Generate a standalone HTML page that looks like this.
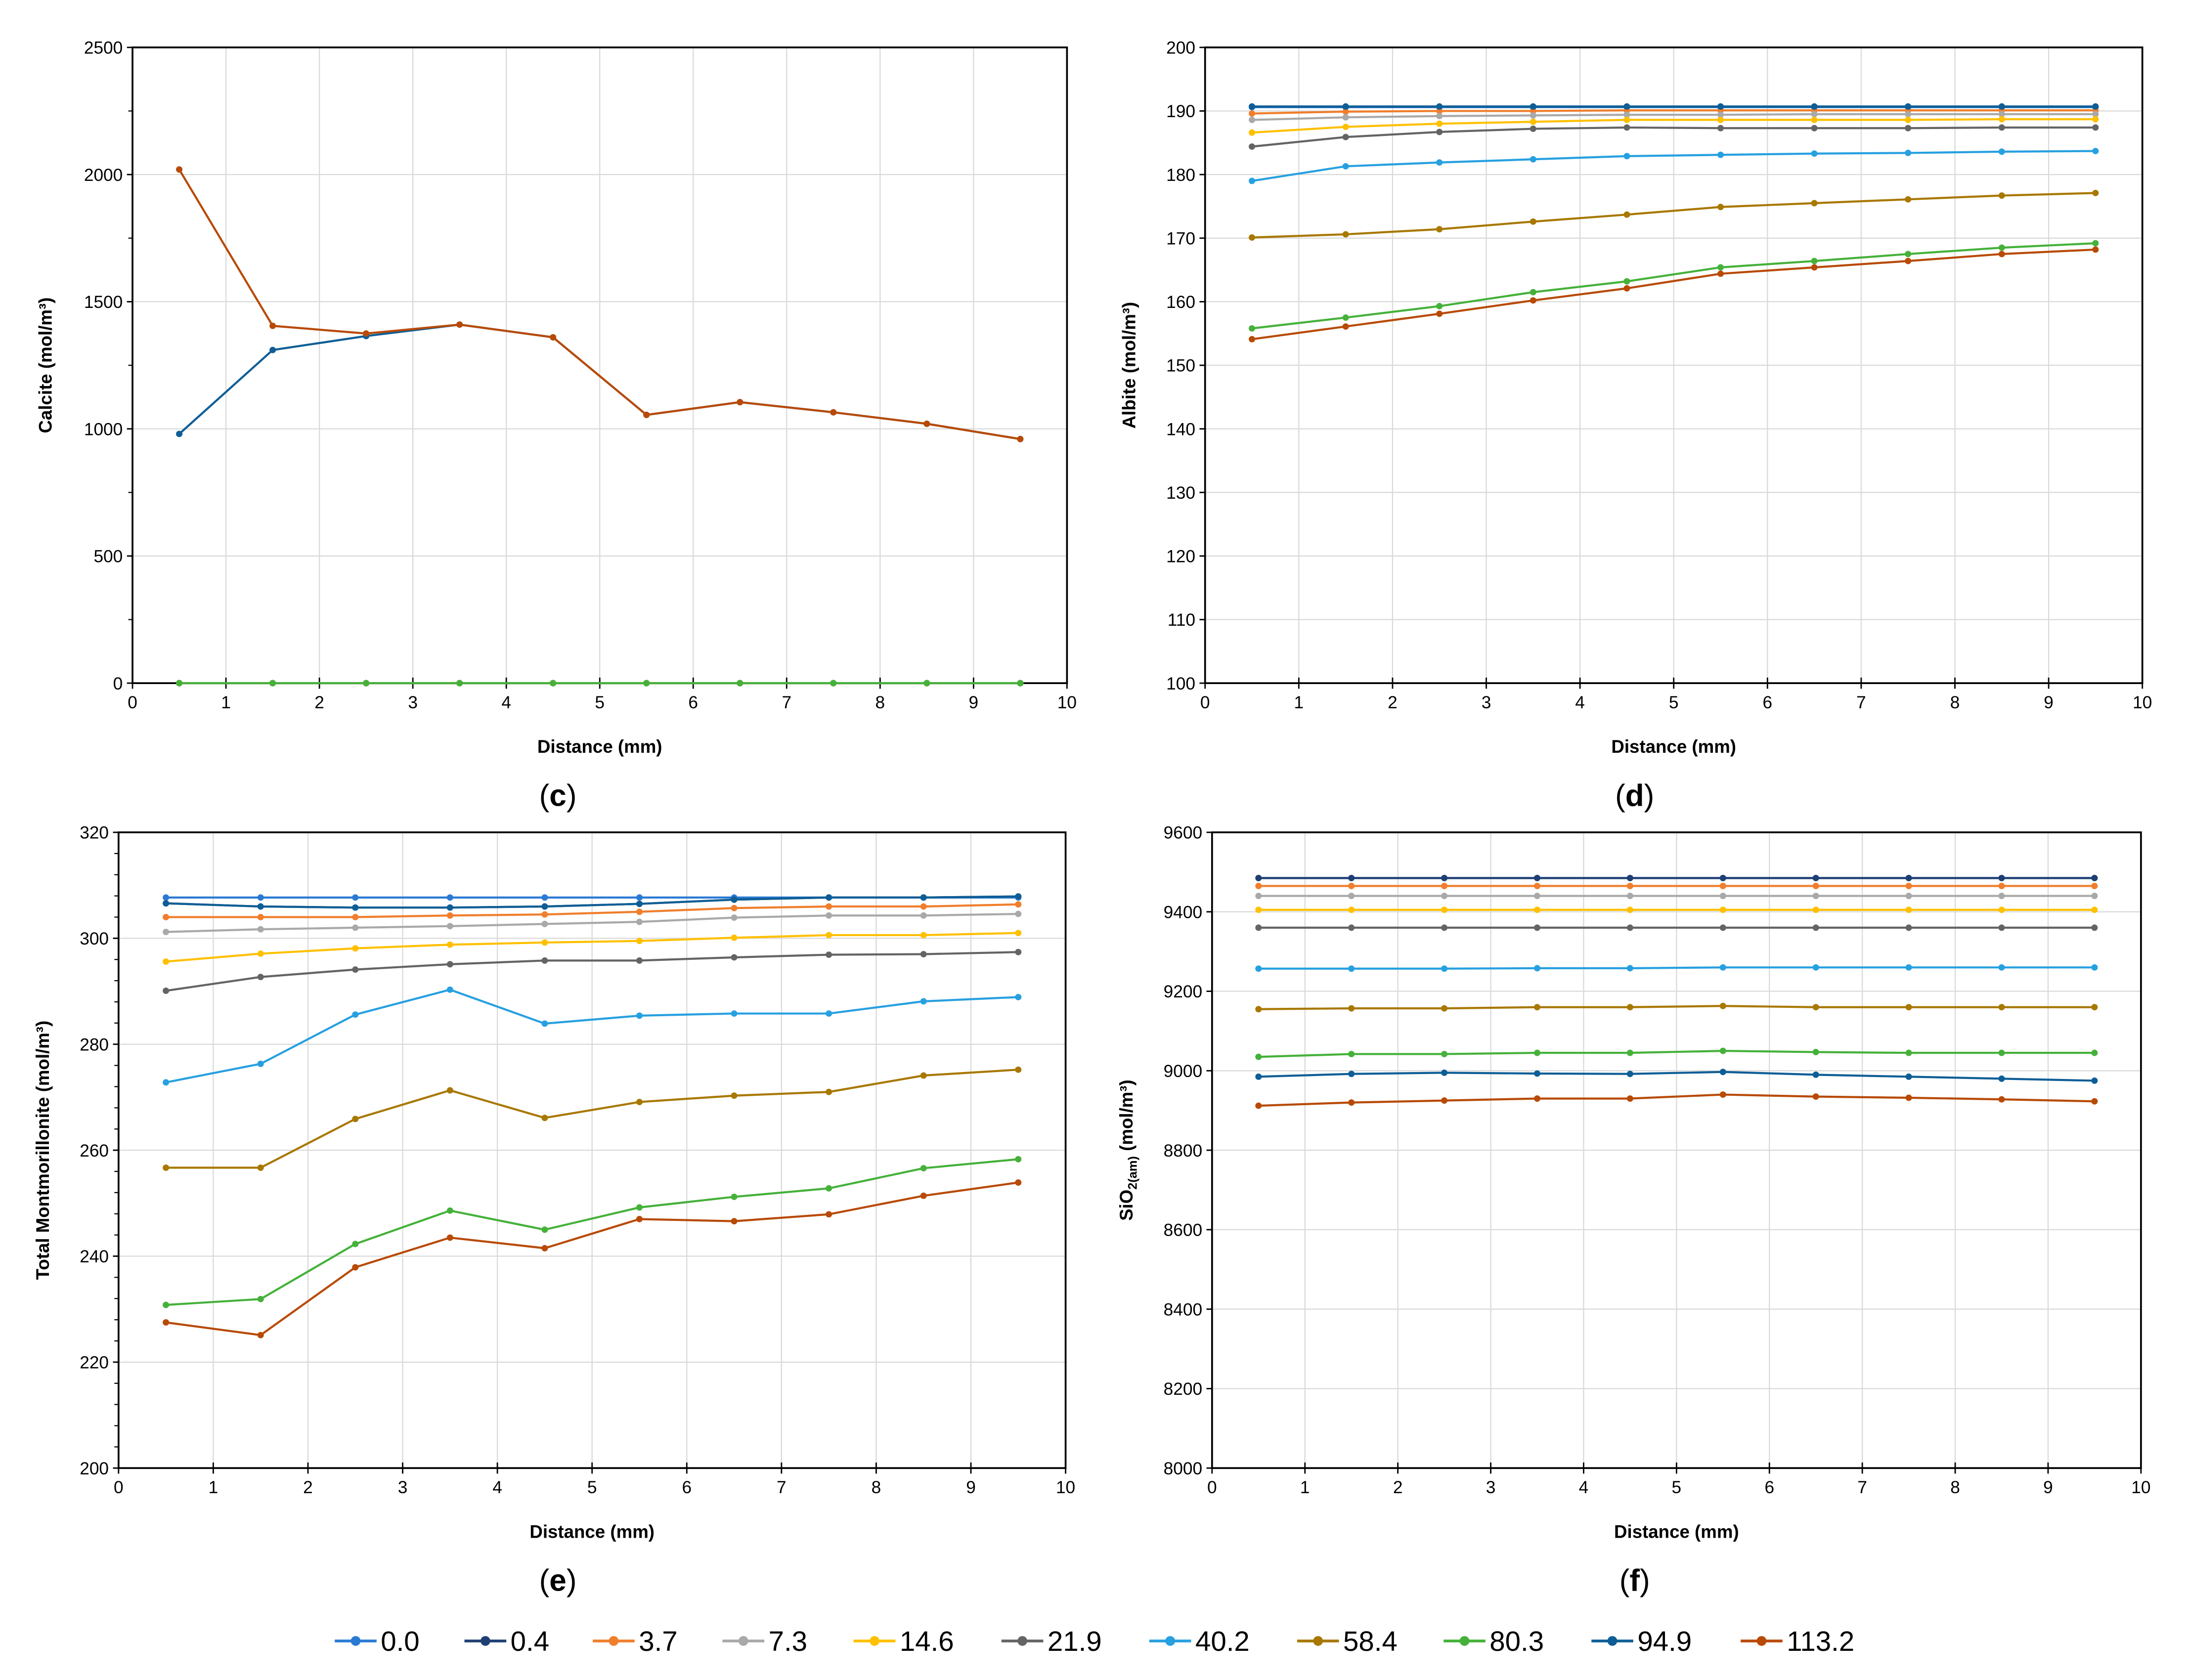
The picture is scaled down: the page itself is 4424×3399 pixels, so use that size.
<!DOCTYPE html>
<html><head><meta charset="utf-8">
<style>
html,body{margin:0;padding:0;background:#fff;}
svg{display:block;}
text{font-family:"Liberation Sans",sans-serif;}
</style></head>
<body>
<svg id="fig" width="4424" height="3399" viewBox="0 0 1568 1205" preserveAspectRatio="none" xmlns="http://www.w3.org/2000/svg"></svg>
<script>
const seriesNames = ["0.0","0.4","3.7","7.3","14.6","21.9","40.2","58.4","80.3","94.9","113.2"];
const seriesColors = ["#2a7ad3","#1f3f73","#f07e2c","#a9a9a9","#ffc000","#646464","#27a0e0","#a87800","#45b13a","#0e5e96","#b84a06"];
const xValues = [0.5,1.5,2.5,3.5,4.5,5.5,6.5,7.5,8.5,9.5];

const calcite0 = [0,0,0,0,0,0,0,0,0,0];
const calcite949 = [980,1310,1365,1410,1360,1055,1105,1065,1020,960];
const calcite1132 = [2020,1405,1375,1410,1360,1055,1105,1065,1020,960];

const albite00 = [190.6,190.6,190.6,190.6,190.6,190.6,190.6,190.6,190.6,190.6];
const albite04 = [190.7,190.7,190.7,190.7,190.7,190.7,190.7,190.7,190.7,190.7];
const albite37 = [189.6,189.9,190,190,190.1,190.1,190.1,190.1,190.1,190.1];
const albite73 = [188.6,189,189.2,189.3,189.4,189.4,189.5,189.5,189.5,189.5];
const albite146 = [186.6,187.5,188,188.3,188.6,188.6,188.6,188.6,188.7,188.7];
const albite219 = [184.4,185.9,186.7,187.2,187.4,187.3,187.3,187.3,187.4,187.4];
const albite402 = [179,181.3,181.9,182.4,182.9,183.1,183.3,183.4,183.6,183.7];
const albite584 = [170.1,170.6,171.4,172.6,173.7,174.9,175.5,176.1,176.7,177.1];
const albite803 = [155.8,157.5,159.3,161.5,163.2,165.4,166.4,167.5,168.5,169.2];
const albite949 = [190.7,190.7,190.7,190.7,190.7,190.7,190.7,190.7,190.7,190.7];
const albite1132 = [154.1,156.1,158.1,160.2,162.1,164.4,165.4,166.4,167.5,168.2];

const mont00 = [307.7,307.7,307.7,307.7,307.7,307.7,307.7,307.7,307.7,307.7];
const mont04 = [306.6,306,305.8,305.8,306,306.5,307.3,307.7,307.7,307.9];
const mont37 = [304,304,304,304.3,304.5,305,305.7,306,306,306.4];
const mont73 = [301.2,301.7,302,302.3,302.7,303.1,303.9,304.3,304.3,304.6];
const mont146 = [295.6,297.1,298.1,298.8,299.2,299.5,300.1,300.6,300.6,301];
const mont219 = [290.1,292.7,294.1,295.1,295.8,295.8,296.4,296.9,297,297.4];
const mont402 = [272.8,276.3,285.6,290.3,283.9,285.4,285.8,285.8,288.1,288.9];
const mont584 = [256.7,256.7,265.9,271.3,266.1,269.1,270.3,271,274.1,275.2];
const mont803 = [230.8,231.9,242.3,248.6,245,249.2,251.2,252.8,256.6,258.3];
const mont949 = [306.6,306,305.8,305.8,306,306.5,307.3,307.7,307.7,307.9];
const mont1132 = [227.5,225.1,237.9,243.5,241.5,247,246.6,247.9,251.4,253.9];

const sio00 = [9485,9485,9485,9485,9485,9485,9485,9485,9485,9485];
const sio04 = [9485,9485,9485,9485,9485,9485,9485,9485,9485,9485];
const sio37 = [9465,9465,9465,9465,9465,9465,9465,9465,9465,9465];
const sio73 = [9440,9440,9440,9440,9440,9440,9440,9440,9440,9440];
const sio146 = [9405,9405,9405,9405,9405,9405,9405,9405,9405,9405];
const sio219 = [9360,9360,9360,9360,9360,9360,9360,9360,9360,9360];
const sio402 = [9257,9257,9257,9258,9258,9260,9260,9260,9260,9260];
const sio584 = [9155,9157,9157,9160,9160,9163,9160,9160,9160,9160];
const sio803 = [9035,9042,9042,9045,9045,9050,9047,9045,9045,9045];
const sio949 = [8985,8992,8995,8993,8992,8997,8990,8985,8980,8975];
const sio1132 = [8912,8920,8925,8930,8930,8940,8935,8932,8928,8923];

const calciteSeries=[calcite0,calcite0,calcite0,calcite0,calcite0,calcite0,calcite0,calcite0,calcite0,calcite949,calcite1132];
const albiteSeries=[albite00,albite04,albite37,albite73,albite146,albite219,albite402,albite584,albite803,albite949,albite1132];
const montSeries=[mont00,mont04,mont37,mont73,mont146,mont219,mont402,mont584,mont803,mont949,mont1132];
const sioSeries=[sio00,sio04,sio37,sio73,sio146,sio219,sio402,sio584,sio803,sio949,sio1132];
const calciteOrder=[0,1,2,3,4,5,6,7,9,10,8];

const NS="http://www.w3.org/2000/svg";
const svg=document.getElementById('fig');
function el(tag,attrs,parent){const e=document.createElementNS(NS,tag);for(const k in attrs)e.setAttribute(k,attrs[k]);(parent||svg).appendChild(e);return e;}

function chart(cfg){
  const g=el('g',{});
  
  
  const {L,R,T,B,ymin,ymax,ystep,minor}=cfg;
  const xs=v=>L+(v-0)/10*(R-L);
  const ys=v=>B-(v-ymin)/(ymax-ymin)*(B-T);
  // grid
  for(let i=1;i<=10;i++){const l=el('line',{x1:xs(i),x2:xs(i),y1:T,y2:B,stroke:'#d9d9d9','stroke-width':0.8},g);}
  for(let v=ymin+ystep;v<=ymax+1e-9;v+=ystep){const l=el('line',{x1:L,x2:R,y1:ys(v),y2:ys(v),stroke:'#d9d9d9','stroke-width':0.8},g);}
  const box=el('rect',{x:L,y:T,width:R-L,height:B-T,fill:'none',stroke:'#000','stroke-width':1.3},g);
  
  // ticks
  for(let i=0;i<=10;i++){
    el('line',{x1:xs(i),x2:xs(i),y1:B-4,y2:B+4,stroke:'#000','stroke-width':1},g);
    const t=el('text',{x:xs(i),y:B+18,'font-size':12.5,'text-anchor':'middle',fill:'#000'},g);t.textContent=i;
    
  }
  for(let v=ymin;v<=ymax+1e-9;v+=ystep){
    el('line',{x1:L-4,x2:L,y1:ys(v),y2:ys(v),stroke:'#000','stroke-width':1},g);
    const t=el('text',{x:L-7,y:ys(v)+4.5,'font-size':12.5,'text-anchor':'end',fill:'#000'},g);t.textContent=v;
    
  }
  if(minor){for(let v=ymin;v<=ymax+1e-9;v+=minor){el('line',{x1:L-3,x2:L,y1:ys(v),y2:ys(v),stroke:'#000','stroke-width':0.8},g);}}
  const xt=el('text',{x:(L+R)/2,y:B+50,'font-size':13,'font-weight':'bold','text-anchor':'middle'},g);
  xt.textContent='Distance (mm)';
  const yt=el('text',{transform:`translate(${cfg.ytx},${(T+B)/2}) rotate(-90)`,'font-size':13,'font-weight':'bold','text-anchor':'middle'},g);
  yt.innerHTML=cfg.ytitle;
  const pl=el('text',{x:cfg.px,y:B+88,'font-size':22,'font-family':'"Liberation Serif",serif','text-anchor':'middle'},g);
  pl.innerHTML='(<tspan font-weight="bold">'+cfg.letter+'</tspan>)';
  const order=cfg.order||seriesNames.map((_,i)=>i);
  for(const si of order){
    const data=cfg.series[si];
    const sg=el('g',{},g);
    
    
    const pts=xValues.map((x,i)=>xs(x).toFixed(2)+','+ys(data[i]).toFixed(2)).join(' ');
    el('polyline',{points:pts,fill:'none',stroke:seriesColors[si],'stroke-width':1.5},sg);
    xValues.forEach((x,i)=>{const c=el('circle',{cx:xs(x),cy:ys(data[i]),r:2.3,fill:seriesColors[si]},sg);
      });
  }
}
chart({name:'calcite-chart',L:95,R:765,T:34,B:490,ymin:0,ymax:2500,ystep:500,minor:250,ytx:37,ytitle:'Calcite (mol/m³)',letter:'c',px:400,series:calciteSeries,order:calciteOrder});
chart({name:'albite-chart',L:864,R:1536,T:34,B:490,ymin:100,ymax:200,ystep:10,ytx:814,ytitle:'Albite (mol/m³)',letter:'d',px:1172,series:albiteSeries});
chart({name:'montmorillonite-chart',L:85,R:764,T:597,B:1053,ymin:200,ymax:320,ystep:20,minor:4,ytx:35,ytitle:'Total Montmorillonite (mol/m³)',letter:'e',px:400,series:montSeries});
chart({name:'sio2-chart',L:869,R:1535,T:597,B:1053,ymin:8000,ymax:9600,ystep:200,ytx:812,ytitle:'SiO<tspan font-size="9" dy="3">2(am)</tspan><tspan dy="-3"> (mol/m³)</tspan>',letter:'f',px:1172,series:sioSeries});

// legend
const lg=el('g',{});


const legendX=[240,333,425,518,612,718,824,930,1035,1141,1248];
seriesNames.forEach((n,i)=>{
  const e=el('g',{},lg);
  
  
  const x=legendX[i];
  el('line',{x1:x,x2:x+30,y1:1177,y2:1177,stroke:seriesColors[i],'stroke-width':2},e);
  el('circle',{cx:x+15,cy:1177,r:3.5,fill:seriesColors[i]},e);
  const t=el('text',{x:x+33,y:1184,'font-size':20,fill:'#000'},e);t.textContent=n;
});
</script>
</body></html>
